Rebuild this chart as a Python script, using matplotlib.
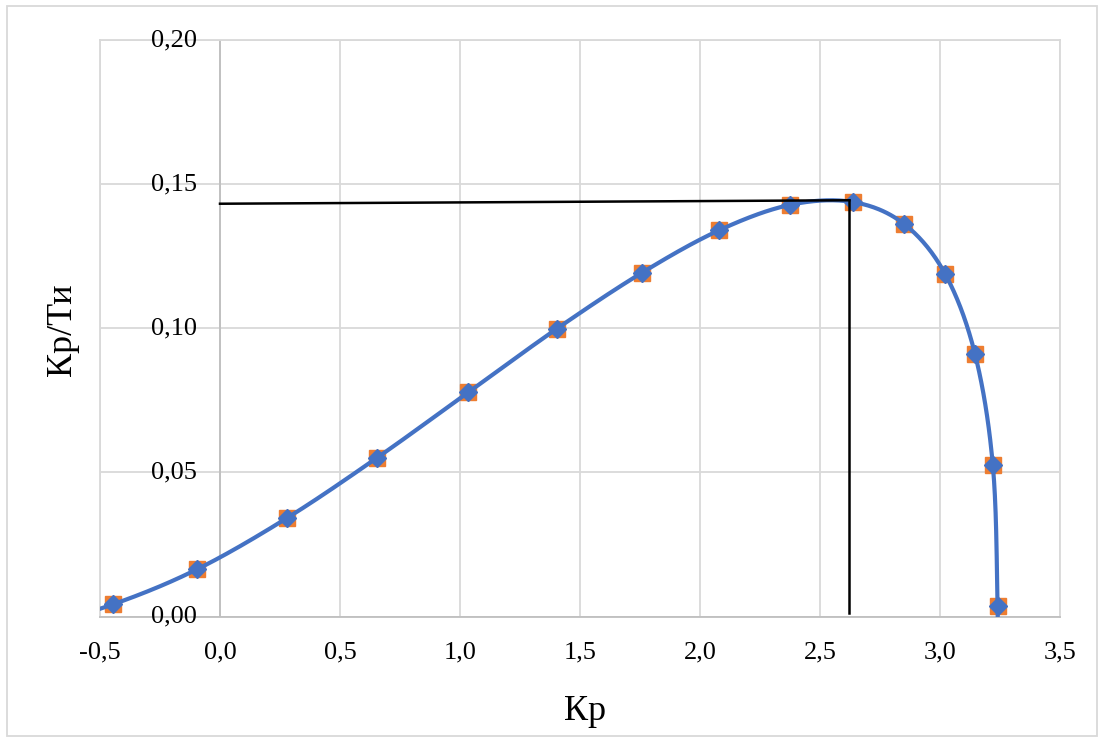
import numpy as np
import matplotlib
matplotlib.use("Agg")
import matplotlib.pyplot as plt
from matplotlib.patches import Rectangle
import matplotlib.transforms as mtransforms

# Stability boundary points (Kp, Kp/Ti); first and last entries lie outside the visible range
kp = [-0.80, -0.446, -0.095, 0.278, 0.655, 1.035, 1.403, 1.757, 2.080, 2.375,
      2.636, 2.850, 3.021, 3.146, 3.220, 3.240, 3.247]
ki = [-0.0045, 0.0042, 0.0164, 0.0341, 0.0551, 0.0778, 0.0998, 0.1192, 0.1340,
      0.1428, 0.1438, 0.1362, 0.1189, 0.0910, 0.0526, 0.0037, -0.050]

# Optimum marker lines
opt_h_x = [0.0, 2.622]
opt_h_y = [0.1432, 0.1444]
opt_v_x = [2.622, 2.622]
opt_v_y = [0.1444, 0.0012]

x_ticks = [-0.5, 0.0, 0.5, 1.0, 1.5, 2.0, 2.5, 3.0, 3.5]
y_ticks = [0.00, 0.05, 0.10, 0.15, 0.20]
x_ticklabels = ["-0,5", "0,0", "0,5", "1,0", "1,5", "2,0", "2,5", "3,0", "3,5"]
y_ticklabels = ["0,00", "0,05", "0,10", "0,15", "0,20"]

BLUE = "#4472C4"
ORANGE = "#ED7D31"
GRID = "#D9D9D9"

plt.rcParams["font.family"] = ["Liberation Serif", "DejaVu Serif"]

W, H = 1101, 740
fig = plt.figure(figsize=(W / 100, H / 100), dpi=100)
ax = fig.add_axes([100 / W, (H - 616.5) / H, 960 / W, 576.5 / H])
ax.set_xlim(-0.5, 3.5)
ax.set_ylim(0.0, 0.20)


def smooth(xs, ys, sx, sy, n=40):
    """Catmull-Rom style Bezier smoothing computed in screen-scaled units."""
    px = np.asarray(xs) * sx
    py = np.asarray(ys) * sy
    P = np.column_stack([px, py])
    P = np.vstack([P[0], P, P[-1]])
    out = []
    for i in range(1, len(P) - 2):
        p0, p1, p2, p3 = P[i - 1], P[i], P[i + 1], P[i + 2]
        c1 = p1 + (p2 - p0) / 6.0
        c2 = p2 - (p3 - p1) / 6.0
        t = np.linspace(0, 1, n)[:, None]
        seg = ((1 - t) ** 3) * p1 + 3 * ((1 - t) ** 2) * t * c1 + 3 * (1 - t) * t ** 2 * c2 + t ** 3 * p2
        out.append(seg if i == 1 else seg[1:])
    out = np.vstack(out)
    return out[:, 0] / sx, out[:, 1] / sy


sx = 960 / 4.0
sy = 576.5 / 0.20
cx, cy = smooth(kp, ki, sx, sy)

ax.plot(kp, ki, linestyle="none", marker="s", markersize=11, color=ORANGE, zorder=3)
ax.plot(cx, cy, color=BLUE, linewidth=3.0, zorder=4, solid_capstyle="round")
ax.plot(kp, ki, linestyle="none", marker="D", markersize=9.5, color=BLUE, zorder=5)

ax.plot(opt_h_x, opt_h_y, color="black", linewidth=1.8, zorder=6)
ax.plot(opt_v_x, opt_v_y, color="black", linewidth=1.8, zorder=6)

# Grid
ax.set_xticks(x_ticks)
ax.set_yticks(y_ticks)
ax.grid(True, color=GRID, linewidth=1.3)
ax.set_axisbelow(True)
for side in ["top", "right", "left"]:
    ax.spines[side].set_color(GRID)
    ax.spines[side].set_linewidth(1.3)
ax.spines["bottom"].set_color("#BFBFBF")
ax.spines["bottom"].set_linewidth(1.3)
ax.axvline(0.0, color="#BFBFBF", linewidth=1.3, zorder=1)

ax.tick_params(axis="both", length=0)
ax.set_xticklabels(x_ticklabels, fontsize=19)
ax.tick_params(axis="x", pad=18)
ax.set_yticklabels([])

# Value-axis labels sit beside the vertical axis at Kp = 0
trans = mtransforms.blended_transform_factory(ax.transData, ax.transData)
offset = mtransforms.ScaledTranslation(-23 / 100, 0, fig.dpi_scale_trans)
for v, lab in zip(y_ticks, y_ticklabels):
    ax.text(0.0, v, lab, transform=trans + offset, ha="right", va="center",
            fontsize=19, clip_on=False)

fig.text(585 / W, 1 - 712 / H, "Кр", ha="center", va="center", fontsize=26)
fig.text(62 / W, 1 - 330 / H, "Кр/Ти", ha="center", va="center", rotation=90, fontsize=26)

# Chart area border
fig.patches.append(Rectangle((7 / W, 4 / H), 1090 / W, 730 / H, transform=fig.transFigure,
                             fill=False, edgecolor=GRID, linewidth=1.3))

fig.savefig("out.png", dpi=100)
